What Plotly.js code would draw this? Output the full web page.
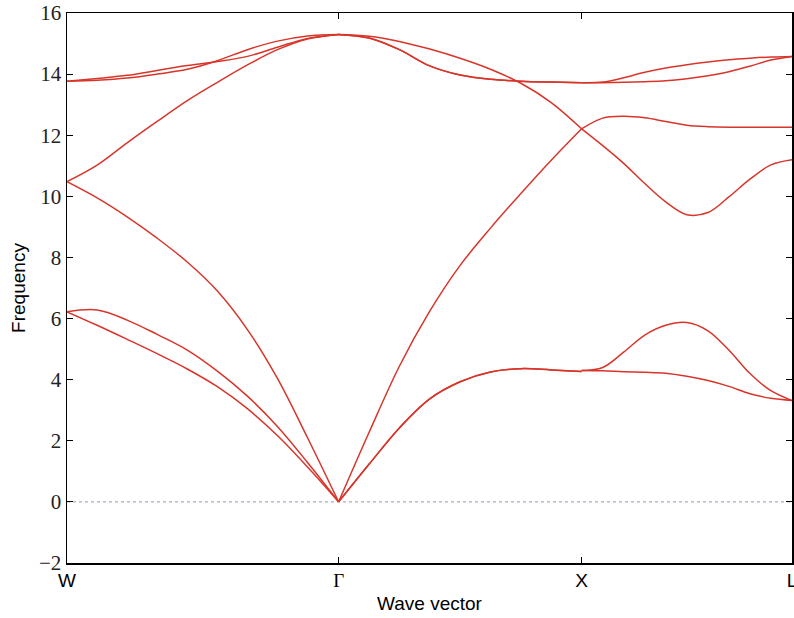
<!DOCTYPE html>
<html>
<head>
<meta charset="utf-8">
<script src="https://cdn.plot.ly/plotly-3.0.1.min.js"></script>
<style>html,body{margin:0;padding:0;background:#fff;}#chart{width:794px;height:618px;}</style>
</head>
<body>
<div id="chart"></div>
<script>
// High-symmetry points (path distance) and labels
const tickPos = [0, 1.118, 2.118, 2.984];
const tickLabels = ['W', '<span style="font-family:\'Liberation Serif\',serif">Γ</span>', 'X', 'L'];

// Segment W -> Γ
const kWG = [0, 0.124, 0.2475, 0.371, 0.495, 0.619, 0.7425, 0.866, 0.990, 1.118];
const wg1 = [6.22, 5.78, 5.32, 4.85, 4.35, 3.77, 3.05, 2.17, 1.14, 0];
const wg2 = [6.22, 6.28, 5.95, 5.48, 4.97, 4.28, 3.46, 2.47, 1.29, 0];
const wg3 = [10.48, 9.95, 9.33, 8.63, 7.85, 6.90, 5.64, 4.04, 2.10, 0];
const wg4 = [10.48, 11.02, 11.75, 12.45, 13.13, 13.73, 14.30, 14.80, 15.15, 15.30];
const wg5 = [13.77, 13.86, 13.96, 14.12, 14.28, 14.41, 14.58, 14.88, 15.17, 15.30];
const wg6 = [13.77, 13.80, 13.87, 14.00, 14.16, 14.44, 14.80, 15.08, 15.25, 15.30];

// Segment Γ -> X
const kGX = [1.118, 1.243, 1.368, 1.493, 1.618, 1.743, 1.868, 1.993, 2.118];
const gxTA = [0, 1.23, 2.42, 3.37, 3.93, 4.25, 4.36, 4.32, 4.27];
const gxLA = [0, 2.27, 4.44, 6.24, 7.74, 8.96, 10.09, 11.18, 12.21];
const gxLO = [15.30, 15.24, 15.07, 14.82, 14.52, 14.16, 13.70, 13.07, 12.21];
const gxTO = [15.30, 15.18, 14.80, 14.27, 13.97, 13.83, 13.77, 13.74, 13.72];

// Segment X -> L
const kXL = [2.118, 2.205, 2.291, 2.378, 2.464, 2.551, 2.638, 2.724, 2.811, 2.897, 2.984];
const xl1 = [4.30, 4.29, 4.26, 4.24, 4.21, 4.11, 3.97, 3.78, 3.54, 3.39, 3.32];
const xl2 = [4.30, 4.40, 4.90, 5.46, 5.78, 5.87, 5.60, 4.97, 4.20, 3.64, 3.32];
const xl3 = [12.21, 11.66, 11.08, 10.42, 9.82, 9.40, 9.47, 9.98, 10.56, 11.03, 11.20];
const xl4 = [12.21, 12.56, 12.62, 12.57, 12.45, 12.33, 12.28, 12.26, 12.26, 12.26, 12.26];
const xl5 = [13.72, 13.72, 13.73, 13.75, 13.78, 13.85, 13.95, 14.08, 14.26, 14.46, 14.58];
const xl6 = [13.72, 13.74, 13.88, 14.06, 14.20, 14.31, 14.40, 14.47, 14.52, 14.56, 14.58];

const zeroLine = [0, 0];

const red = '#d8352a';
const segs = [
  [kWG, [wg1, wg2, wg3, wg4, wg5, wg6]],
  [kGX, [gxTA, gxTA, gxLA, gxLO, gxTO, gxTO]],
  [kXL, [xl1, xl2, xl3, xl4, xl5, xl6]]
];
const traces = [{
  x: [tickPos[0], tickPos[3]], y: zeroLine, mode: 'lines',
  line: {color: 'rgb(150,150,185)', width: 1, dash: 'dot'}, hoverinfo: 'skip'
}];
segs.forEach(([k, bands]) => {
  bands.forEach(b => traces.push({
    x: k, y: b, mode: 'lines',
    line: {color: red, width: 1.5, shape: 'spline', smoothing: 1}
  }));
});

const layout = {
  width: 794, height: 618,
  margin: {l: 67, r: 2, t: 13, b: 55},
  paper_bgcolor: '#fff', plot_bgcolor: '#fff',
  showlegend: false,
  xaxis: {
    range: [tickPos[0], tickPos[3]],
    tickmode: 'array', tickvals: tickPos, ticktext: tickLabels,
    ticks: 'inside', ticklen: 6, tickcolor: '#000', tickwidth: 1,
    ticklabeloverflow: 'allow',
    showgrid: false, zeroline: false,
    showline: true, linecolor: '#000', linewidth: 1.5, mirror: 'allticks',
    tickfont: {family: 'Liberation Sans, Arial, sans-serif', size: 19, color: '#000'},
    title: {text: 'Wave vector', font: {family: 'Liberation Sans, Arial, sans-serif', size: 19, color: '#000'}, standoff: 6}
  },
  yaxis: {
    range: [-2, 16], dtick: 2, tick0: 0,
    ticks: 'inside', ticklen: 6, tickcolor: '#000', tickwidth: 1,
    showgrid: false, zeroline: false,
    showline: true, linecolor: '#000', linewidth: 1.5, mirror: 'allticks',
    tickfont: {family: 'Liberation Serif, serif', size: 21, color: '#222'},
    title: {text: 'Frequency', font: {family: 'Liberation Sans, Arial, sans-serif', size: 19, color: '#000'}, standoff: 8}
  }
};

Plotly.newPlot('chart', traces, layout, {displayModeBar: false, staticPlot: true});
</script>
</body>
</html>
